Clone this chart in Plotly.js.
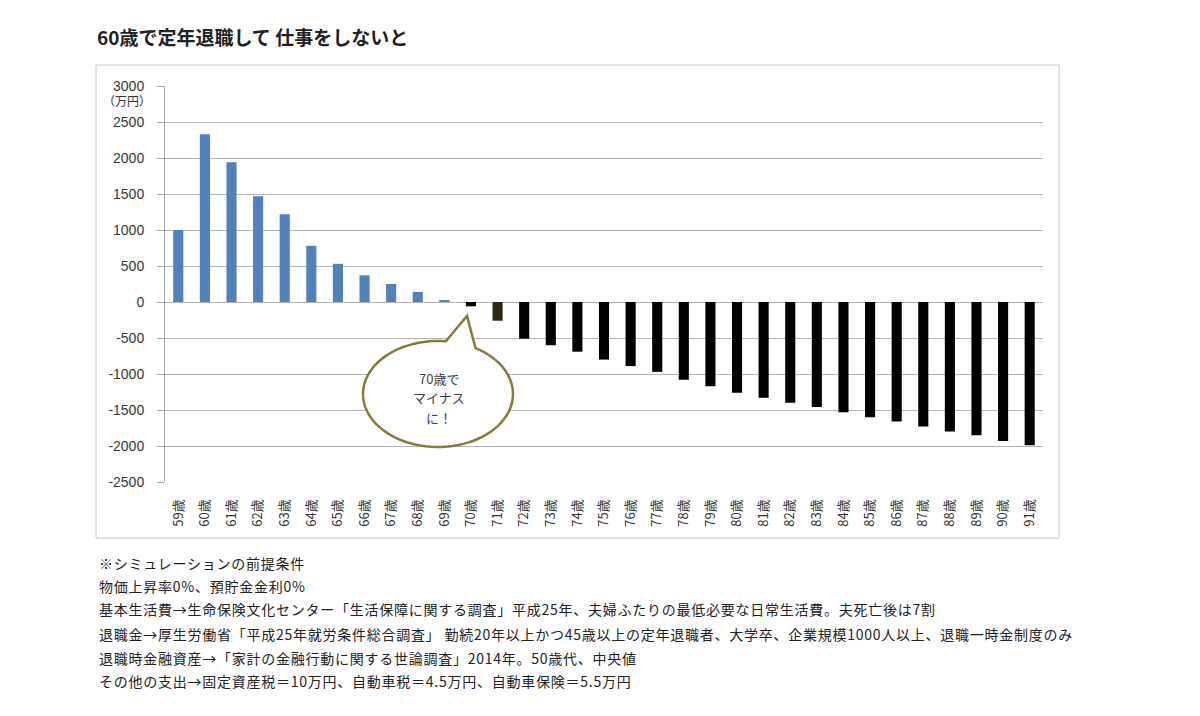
<!DOCTYPE html>
<html>
<head>
<meta charset="utf-8">
<script src="https://cdn.plot.ly/plotly-3.0.1.min.js"></script>
<style>
  html, body { margin: 0; padding: 0; background: #fff; }
  #chart { width: 1200px; height: 716px; }
</style>
</head>
<body>
<div id="chart"></div>
<script>
// Age categories (x axis)
const ages = ['59歳','60歳','61歳','62歳','63歳','64歳','65歳','66歳','67歳','68歳','69歳',
  '70歳','71歳','72歳','73歳','74歳','75歳','76歳','77歳','78歳','79歳','80歳',
  '81歳','82歳','83歳','84歳','85歳','86歳','87歳','88歳','89歳','90歳','91歳'];

// Remaining household assets at each age (万円)
const balance = [1000, 2330, 1940, 1470, 1220, 780, 530, 370, 250, 140, 25,
  -60, -260, -510, -600, -690, -800, -890, -970, -1080, -1170, -1260,
  -1330, -1400, -1460, -1530, -1600, -1660, -1730, -1800, -1850, -1930, -1990];

// Y axis ticks
const yTicks = [3000, 2500, 2000, 1500, 1000, 500, 0, -500, -1000, -1500, -2000, -2500];

const titleText = '60歳で定年退職して 仕事をしないと';
const unitText = '（万円）';
const bubbleLines = ['70歳で', 'マイナス', 'に！'];
const notes = [
  '※シミュレーションの前提条件',
  '物価上昇率0%、預貯金金利0%',
  '基本生活費→生命保険文化センター「生活保障に関する調査」平成25年、夫婦ふたりの最低必要な日常生活費。夫死亡後は7割',
  '退職金→厚生労働省「平成25年就労条件総合調査」 勤続20年以上かつ45歳以上の定年退職者、大学卒、企業規模1000人以上、退職一時金制度のみ',
  '退職時金融資産→「家計の金融行動に関する世論調査」2014年。50歳代、中央値',
  'その他の支出→固定資産税＝10万円、自動車税＝4.5万円、自動車保険＝5.5万円'
];

// Plot area in pixels
const W = 1200, H = 716;
const L = 165, R = 1043, T = 86, B = 482;
const px = X => (X - L) / (R - L);
const py = Y => (B - Y) / (B - T);

const yMin = -2500, yMax = 3000;

const barColors = balance.map((v, i) => {
  if (v >= 0) return '#4f81bd';
  if (ages[i] === '71歳') return '#2b2716';
  return '#000000';
});

const jp = '"Noto Sans CJK JP", "Noto Sans", sans-serif';
const latin = '"Liberation Sans", Arial, sans-serif';

const traces = [{
  type: 'bar',
  x: ages,
  y: balance,
  marker: { color: barColors, line: { width: 0 } },
  hoverinfo: 'x+y',
  showlegend: false
}];

// Speech bubble outline: ellipse with a tail pointing up at the 70歳 bar
function bubblePath() {
  const cx = 438, cy = 394, rx = 75, ry = 53;
  const tip = [467, 316];
  const a0 = 84 * Math.PI / 180, a1 = (360 + 60) * Math.PI / 180;
  const pts = [];
  const n = 80;
  for (let k = 0; k <= n; k++) {
    const t = a0 + (a1 - a0) * k / n;
    pts.push([cx + rx * Math.cos(t), cy - ry * Math.sin(t)]);
  }
  let d = 'M ' + px(pts[0][0]).toFixed(5) + ',' + py(pts[0][1]).toFixed(5);
  for (let k = 1; k < pts.length; k++) {
    d += ' L ' + px(pts[k][0]).toFixed(5) + ',' + py(pts[k][1]).toFixed(5);
  }
  d += ' L ' + px(tip[0]).toFixed(5) + ',' + py(tip[1]).toFixed(5) + ' Z';
  return d;
}

const shapes = [
  // chart frame
  { type: 'rect', xref: 'paper', yref: 'paper',
    x0: px(96), x1: px(1059), y0: py(65), y1: py(538),
    line: { color: '#c8c8c8', width: 1 }, fillcolor: 'rgba(0,0,0,0)', layer: 'below' },
  // speech bubble
  { type: 'path', xref: 'paper', yref: 'paper', path: bubblePath(),
    fillcolor: '#ffffff', line: { color: '#857b3e', width: 2.5 }, layer: 'above' }
];

const annotations = [
  { xref: 'paper', yref: 'paper', x: px(127), y: py(101), text: unitText,
    showarrow: false, xanchor: 'center', yanchor: 'middle',
    font: { family: jp, size: 12, color: '#333333' } }
];
bubbleLines.forEach((s, i) => {
  annotations.push({ xref: 'paper', yref: 'paper', x: px(439), y: py(378 + i * 19.5), text: s,
    showarrow: false, xanchor: 'center', yanchor: 'middle',
    font: { family: jp, size: 13, color: '#404040' } });
});
const noteY = [563, 586, 609, 634, 658, 681];
notes.forEach((s, i) => {
  annotations.push({ xref: 'paper', yref: 'paper', x: px(97), y: py(noteY[i]),
    text: '<span style="letter-spacing:0.75px">' + s + '</span>',
    showarrow: false, xanchor: 'left', yanchor: 'middle',
    font: { family: jp, size: 14, color: '#222222' } });
});

const layout = {
  width: W, height: H,
  paper_bgcolor: '#ffffff', plot_bgcolor: '#ffffff',
  margin: { l: L, r: W - R, t: T, b: H - B, pad: 0 },
  bargap: 0.62,
  title: {
    text: '<b>' + titleText + '</b>',
    x: 97 / W, xref: 'container', xanchor: 'left',
    y: 1 - 38 / H, yref: 'container', yanchor: 'middle',
    font: { family: jp, size: 19, color: '#222222' }
  },
  xaxis: {
    type: 'category',
    range: [-0.5, ages.length - 0.5],
    showgrid: false, zeroline: false, showline: false,
    ticks: 'outside', ticklen: 11, tickcolor: 'rgba(0,0,0,0)',
    tickangle: -90,
    tickfont: { family: jp, size: 13, color: '#333333' },
    fixedrange: true
  },
  xaxis2: {
    overlaying: 'x', anchor: 'free', position: (0 - yMin) / (yMax - yMin),
    type: 'linear', range: [-0.5, ages.length - 0.5],
    tick0: -0.5, dtick: 1,
    showgrid: false, zeroline: false, showline: true,
    linecolor: '#a6a6a6', linewidth: 1,
    ticks: 'outside', ticklen: 5, tickcolor: '#a6a6a6',
    showticklabels: false, fixedrange: true
  },
  yaxis: {
    range: [yMin, yMax],
    tickvals: yTicks,
    ticktext: yTicks.map(String),
    showgrid: true, gridcolor: '#b5b5b5', gridwidth: 1,
    zeroline: false,
    showline: true, linecolor: '#a6a6a6', linewidth: 1,
    ticks: 'outside', ticklen: 7, tickcolor: '#a6a6a6',
    ticklabelstandoff: 10,
    tickfont: { family: latin, size: 14, color: '#3a3a3a' },
    fixedrange: true
  },
  shapes: shapes,
  annotations: annotations
};

Plotly.newPlot('chart', traces, layout, { displayModeBar: false, staticPlot: false });
</script>
</body>
</html>
